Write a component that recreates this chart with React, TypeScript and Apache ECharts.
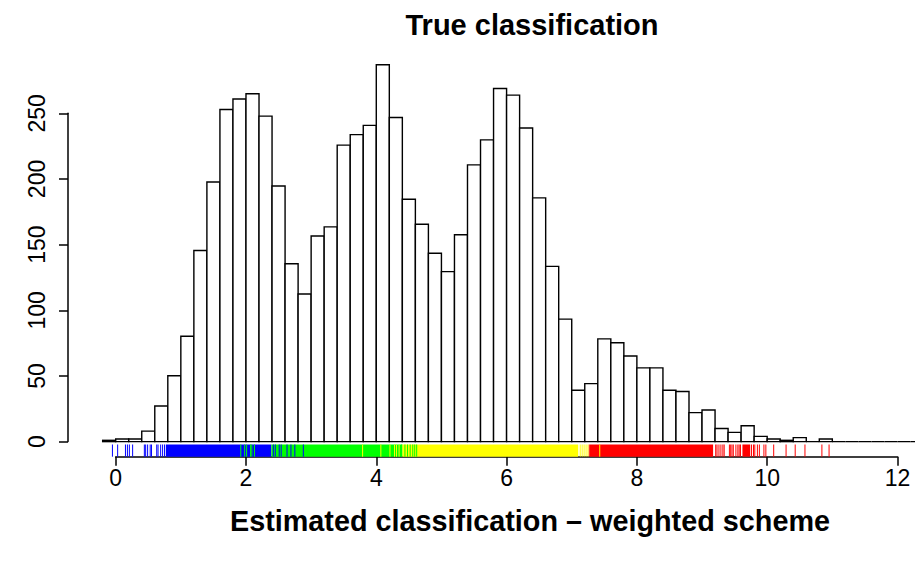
import React, { useEffect, useRef } from "react";
import * as echarts from "echarts";

// Histogram bins: start, width and counts
const BIN_START = -0.2;
const BIN_WIDTH = 0.2;
const binCounts = [
  1, 2, 2, 8, 27, 50, 80, 145, 197, 252, 260, 264, 247, 194, 135, 112, 156, 163,
  225, 233, 240, 286, 246, 184, 165, 143, 129, 157, 210, 229, 268, 263, 238, 185,
  133, 93, 39, 44, 78, 75, 65, 56, 56, 39, 38, 22, 24, 10, 7, 12, 4, 2, 1, 3, 0, 2,
  0, 0, 0, 0, 0, 0, 0, 0, 0, 0,
];

// Axis tick labels
const xTicks = [0, 2, 4, 6, 8, 10, 12];
const yTicks = [0, 50, 100, 150, 200, 250];

// Rug: dense stretches (solid) and single ticks, per class colour
const rugBlueRanges = [[0.77, 2.39]];
const rugGreenRanges = [[2.39, 4.4]];
const rugYellowRanges = [[4.4, 7.1]];
const rugRedRanges = [[7.28, 9.17], [9.62, 9.74]];

const rugBlueTicks = [
  -0.05, 0.03, 0.15, 0.18, 0.21, 0.26, 0.44, 0.46, 0.49, 0.53, 0.55, 0.63, 0.65,
  0.69, 0.72, 0.75, 2.42, 2.45, 2.51, 2.54, 2.63, 2.69, 2.75, 2.88,
];
const rugGreenTicks = [
  1.92, 1.98, 2.01, 2.07, 2.09, 2.13, 4.39, 4.44, 4.48, 4.52, 4.56, 4.59, 4.62,
];
const rugYellowTicks = [
  3.79, 4.07, 4.21, 4.28, 4.31, 4.35, 7.13, 7.16, 7.19, 7.22, 7.25, 7.43,
];
const rugRedTicks = [
  7.27, 9.21, 9.23, 9.26, 9.29, 9.32, 9.34, 9.42, 9.44, 9.46, 9.48, 9.52, 9.55,
  9.57, 9.59, 9.76, 9.79, 9.81, 9.85, 9.88, 9.95, 9.98, 10.1, 10.29, 10.43,
  10.58, 10.84, 10.95,
];

const COLORS = { blue: "#0000ff", green: "#00ff00", yellow: "#ffff00", red: "#ff0000" };

const TITLE = "True classification";
const XLAB = "Estimated classification \u2013 weighted scheme";

const FONT = "'Liberation Sans', Arial, Helvetica, sans-serif";

export default function App() {
  const ref = useRef<HTMLDivElement>(null);

  useEffect(() => {
    if (!ref.current) return;
    const chart = echarts.init(ref.current, undefined, { renderer: "svg" });

    const maxCount = Math.max(...binCounts);
    const yMin = -0.04 * maxCount;
    const yMax = maxCount * 1.04;
    const rugTop = yMin + 0.03 * (yMax - yMin);

    const histData = binCounts.map((c, i) => [
      BIN_START + i * BIN_WIDTH,
      BIN_START + (i + 1) * BIN_WIDTH,
      c,
    ]);

    const rangeData: any[] = [];
    const addRanges = (arr: number[][], col: string) =>
      arr.forEach((r) => rangeData.push({ value: [r[0], r[1]], itemStyle: { color: col } }));
    addRanges(rugBlueRanges, COLORS.blue);
    addRanges(rugGreenRanges, COLORS.green);
    addRanges(rugYellowRanges, COLORS.yellow);
    addRanges(rugRedRanges, COLORS.red);

    const tickData: any[] = [];
    const addTicks = (arr: number[], col: string) =>
      arr.forEach((v) => tickData.push({ value: [v], itemStyle: { color: col } }));
    addTicks(rugBlueTicks, COLORS.blue);
    addTicks(rugGreenTicks, COLORS.green);
    addTicks(rugYellowTicks, COLORS.yellow);
    addTicks(rugRedTicks, COLORS.red);

    const axisLineStyle = { color: "#000", width: 1.5 };

    chart.setOption({
      animation: false,
      textStyle: { fontFamily: FONT },
      grid: [
        { left: 68, top: 49.7, width: 847, height: 407, containLabel: false },
        { left: 68, top: 113.3, width: 10, height: 328.3, containLabel: false },
        { left: 115.7, top: 400, width: 781.8, height: 56.7, containLabel: false },
      ],
      xAxis: [
        { type: "value", gridIndex: 0, min: -0.732, max: 12.269, show: false },
        { type: "value", gridIndex: 1, min: 0, max: 1, show: false },
        {
          type: "value",
          gridIndex: 2,
          min: xTicks[0],
          max: xTicks[xTicks.length - 1],
          interval: xTicks[1] - xTicks[0],
          position: "bottom",
          axisLine: { show: true, lineStyle: axisLineStyle },
          axisTick: { show: true, length: 9, lineStyle: axisLineStyle },
          axisLabel: { fontSize: 23, color: "#000", margin: 10, fontFamily: FONT },
          splitLine: { show: false },
        },
      ],
      yAxis: [
        { type: "value", gridIndex: 0, min: yMin, max: yMax, show: false },
        {
          type: "value",
          gridIndex: 1,
          min: yTicks[0],
          max: yTicks[yTicks.length - 1],
          interval: yTicks[1] - yTicks[0],
          position: "left",
          axisLine: { show: true, lineStyle: axisLineStyle },
          axisTick: { show: true, length: 9, lineStyle: axisLineStyle },
          axisLabel: { fontSize: 23, color: "#000", margin: 20, rotate: 90, fontFamily: FONT },
          splitLine: { show: false },
        },
        { type: "value", gridIndex: 2, min: 0, max: 1, show: false },
      ],
      series: [
        {
          type: "custom",
          xAxisIndex: 0,
          yAxisIndex: 0,
          data: histData,
          encode: { x: [0, 1], y: 2 },
          renderItem: (_p: any, api: any) => {
            const a = api.coord([api.value(0), api.value(2)]);
            const b = api.coord([api.value(1), 0]);
            return {
              type: "rect",
              shape: { x: a[0], y: a[1], width: b[0] - a[0], height: b[1] - a[1] },
              style: { fill: "#fff", stroke: "#000", lineWidth: 1.4 },
            };
          },
        },
        {
          type: "custom",
          xAxisIndex: 0,
          yAxisIndex: 0,
          data: rangeData,
          encode: { x: [0, 1] },
          renderItem: (p: any, api: any) => {
            const a = api.coord([api.value(0), rugTop]);
            const b = api.coord([api.value(1), yMin]);
            return {
              type: "rect",
              shape: { x: a[0], y: a[1], width: b[0] - a[0], height: b[1] - a[1] },
              style: { fill: api.visual("color"), stroke: null },
            };
          },
        },
        {
          type: "custom",
          xAxisIndex: 0,
          yAxisIndex: 0,
          data: tickData,
          encode: { x: 0 },
          renderItem: (p: any, api: any) => {
            const a = api.coord([api.value(0), rugTop]);
            const b = api.coord([api.value(0), yMin]);
            return {
              type: "line",
              shape: { x1: a[0], y1: a[1], x2: b[0], y2: b[1] },
              style: { stroke: api.visual("color"), lineWidth: 1 },
            };
          },
        },
      ],
      graphic: [
        {
          type: "text",
          x: 532,
          y: 25,
          style: {
            text: TITLE,
            textAlign: "center",
            textVerticalAlign: "middle",
            font: `bold 29px ${FONT}`,
            fill: "#000",
          },
        },
        {
          type: "text",
          x: 530,
          y: 521,
          style: {
            text: XLAB,
            textAlign: "center",
            textVerticalAlign: "middle",
            font: `bold 28.8px ${FONT}`,
            fill: "#000",
          },
        },
      ],
    });

    return () => chart.dispose();
  }, []);

  return (
    <div
      ref={ref}
      style={{ position: "fixed", left: 0, top: 0, width: 915, height: 564, background: "#fff" }}
    />
  );
}
